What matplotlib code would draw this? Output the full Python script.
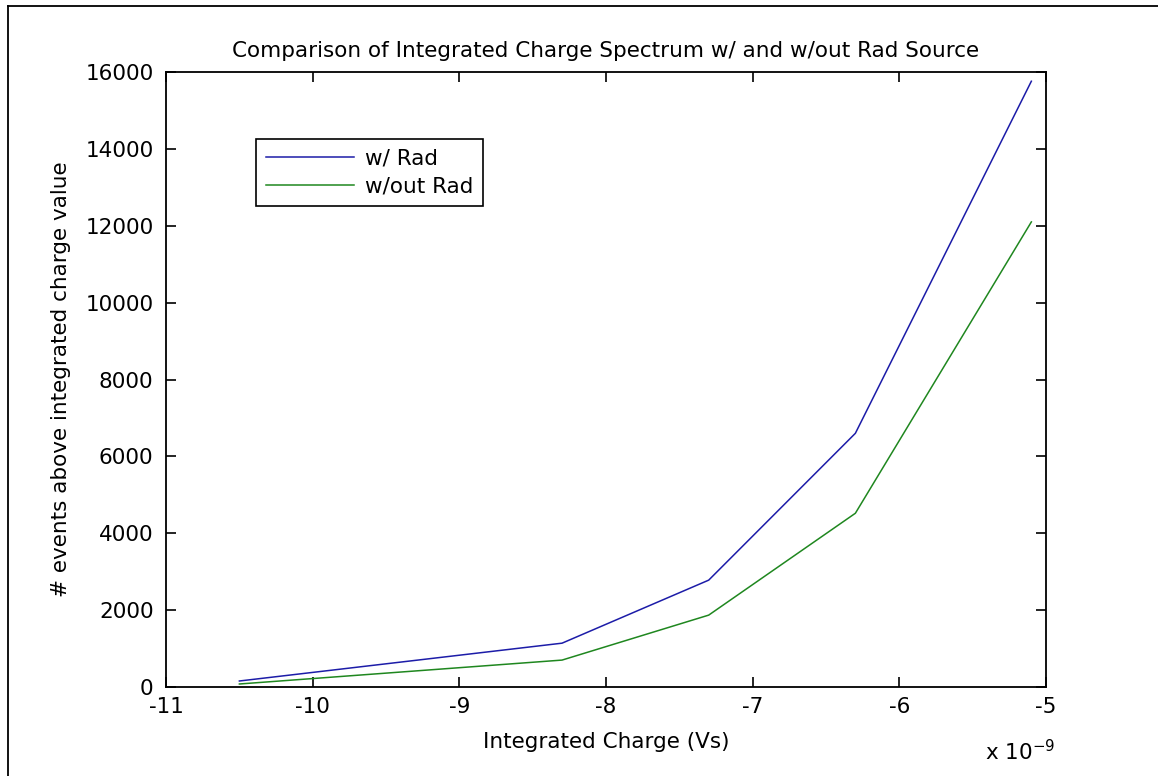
import matplotlib.pyplot as plt
from matplotlib.lines import Line2D

# integrated charge, in units of 1e-9 Vs
charge = [-10.5, -8.3, -7.3, -6.3, -5.1]
with_rad = [156, 1140, 2780, 6600, 15760]
without_rad = [78, 700, 1870, 4520, 12100]

x_ticks = [-11, -10, -9, -8, -7, -6, -5]
y_ticks = [0, 2000, 4000, 6000, 8000, 10000, 12000, 14000, 16000]

plt.rcParams['font.family'] = 'DejaVu Sans'
fs = 15.5

fig = plt.figure(figsize=(11.58, 7.76), dpi=100)
ax = fig.add_axes([0.1434, 0.1147, 0.7599, 0.7925])

ax.plot(charge, with_rad, color='#1c1ca8', lw=1.1, label='w/ Rad')
ax.plot(charge, without_rad, color='#1f871f', lw=1.1, label='w/out Rad')

ax.set_xlim(-11, -5)
ax.set_ylim(0, 16000)
ax.set_xticks(x_ticks)
ax.set_yticks(y_ticks)
ax.set_xticklabels([str(t) for t in x_ticks])
ax.set_yticklabels([str(t) for t in y_ticks])
ax.tick_params(direction='in', length=7, width=1.2, top=True, right=True, labelsize=fs)
ax.tick_params(axis='x', pad=7)
ax.tick_params(axis='y', pad=9)
for s in ax.spines.values():
    s.set_linewidth(1.3)

ax.set_title('Comparison of Integrated Charge Spectrum w/ and w/out Rad Source', fontsize=fs, pad=11)
ax.set_xlabel('Integrated Charge (Vs)', fontsize=fs, labelpad=11)
ax.set_ylabel('# events above integrated charge value', fontsize=fs, labelpad=10)

# exponent label like matlab
fig.text(985 / 1158, 1 - 752 / 776, r'x 10$^{-9}$', fontsize=fs, ha='left', va='center')

leg = ax.legend(loc='upper left', bbox_to_anchor=(0.102, 0.891), borderaxespad=0,
                fancybox=False, framealpha=1, edgecolor='black', fontsize=fs,
                handlelength=4.1, borderpad=0.45, labelspacing=0.35, handletextpad=0.5)
leg.get_frame().set_linewidth(1.2)

# outer figure frame (left and top visible)
fig.add_artist(Line2D([8 / 1158, 8 / 1158], [0, 1 - 6 / 776], color='black', lw=1.3))
fig.add_artist(Line2D([8 / 1158, 1], [1 - 6 / 776, 1 - 6 / 776], color='black', lw=1.3))

fig.savefig('out.png', dpi=100)
